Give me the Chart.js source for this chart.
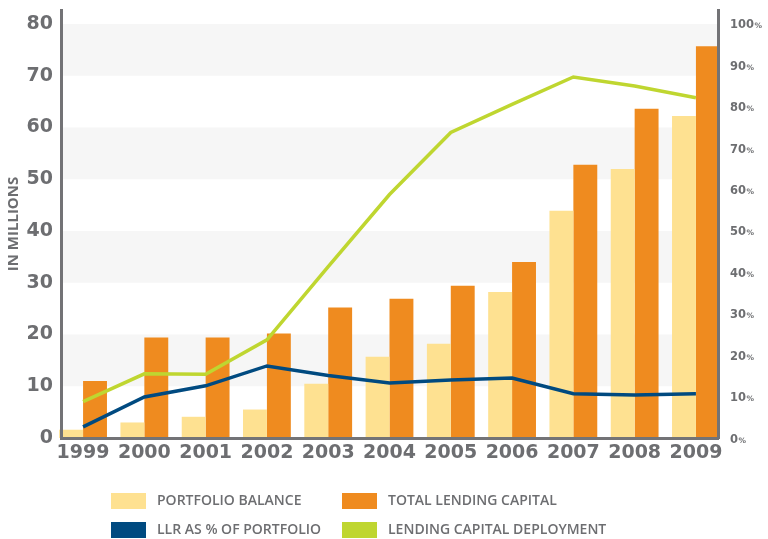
<!DOCTYPE html>
<html><head><meta charset="utf-8">
<script src="https://cdn.jsdelivr.net/npm/chart.js@4/dist/chart.umd.min.js"></script>
<style>html,body{margin:0;padding:0;background:#fff}#wrap{width:768px;height:539px;position:relative}</style>
</head><body><div id="wrap"><canvas id="c" width="768" height="539"></canvas></div>
<script>
// ---- data ----
const categories = ['1999','2000','2001','2002','2003','2004','2005','2006','2007','2008','2009'];
const portfolioBalance    = [1.6, 3.0, 4.1, 5.5, 10.5, 15.7, 18.2, 28.2, 43.9, 52.0, 62.2];
const totalLendingCapital = [11.0, 19.4, 19.4, 20.2, 25.2, 26.9, 29.4, 34.0, 52.8, 63.6, 75.7];
const llrPercent          = [2.7, 9.9, 12.6, 17.4, 15.1, 13.3, 14.0, 14.5, 10.7, 10.4, 10.7];
const deploymentPercent   = [8.8, 15.5, 15.4, 23.7, 41.4, 58.8, 73.8, 80.6, 87.2, 85.0, 82.2];
const leftTickValues  = [0, 10, 20, 30, 40, 50, 60, 70, 80];
const rightTickValues = [0, 10, 20, 30, 40, 50, 60, 70, 80, 90, 100];
const shadedBands = [[10, 20], [30, 40], [50, 60], [70, 80]];
const seriesLabels = ['PORTFOLIO BALANCE', 'TOTAL LENDING CAPITAL', 'LLR AS % OF PORTFOLIO', 'LENDING CAPITAL DEPLOYMENT'];

const GRAY = '#6d6e71';
const AXIS = '#737376';
const C_PORT = '#fee191';
const C_TOTAL = '#ef8b1f';
const C_LLR = '#004a80';
const C_DEP = '#bfd630';

const toPoints = (arr) => arr.map((v, i) => ({x: i, y: v}));

const bandsPlugin = {
  id: 'bands',
  beforeDatasetsDraw(chart) {
    const {ctx, chartArea, scales} = chart;
    ctx.save();
    ctx.fillStyle = '#f6f6f6';
    for (const [a, b] of shadedBands) {
      const yTop = scales.y.getPixelForValue(b);
      const yBot = scales.y.getPixelForValue(a);
      ctx.fillRect(chartArea.left, yTop, chartArea.right - chartArea.left, yBot - yTop);
    }
    ctx.restore();
  }
};

const extrasPlugin = {
  id: 'extras',
  afterDraw(chart) {
    const {ctx, scales, chartArea} = chart;
    ctx.save();
    // right axis labels: number + small percent sign
    ctx.fillStyle = GRAY;
    ctx.textBaseline = 'alphabetic';
    ctx.textAlign = 'left';
    for (const t of scales.y1.ticks) {
      const py = scales.y1.getPixelForValue(t.value);
      const x0 = chartArea.right + 12;
      ctx.font = 'bold 11.5px "DejaVu Sans"';
      const s = String(t.value);
      ctx.fillText(s, x0, py + 4.5);
      const w = ctx.measureText(s).width;
      ctx.font = 'bold 7.5px "DejaVu Sans"';
      ctx.fillText('%', x0 + w + 0.5, py + 4.5);
    }
    // legend 2x2
    const ds = chart.data.datasets;
    const order = [2, 3, 1, 0];
    const colX = [111, 342];
    const rowY = [493, 522];
    ctx.font = '600 14px "Open Sans"';
    ctx.textBaseline = 'middle';
    order.forEach((di, k) => {
      const d = ds[di];
      const x = colX[k % 2], y = rowY[Math.floor(k / 2)];
      ctx.fillStyle = d.legendColor;
      ctx.fillRect(x, y, 35, 16);
      ctx.fillStyle = GRAY;
      ctx.fillText(d.label, x + 46, y + 8.5);
    });
    ctx.restore();
  }
};

const tickFont = {family: '"DejaVu Sans"', weight: 'bold', size: 19};

new Chart(document.getElementById('c'), {
  type: 'bar',
  data: {
    datasets: [
      {type: 'line', label: seriesLabels[3], data: toPoints(deploymentPercent), xAxisID: 'x', yAxisID: 'y1',
       borderColor: C_DEP, legendColor: C_DEP, borderWidth: 3.5, pointRadius: 0, tension: 0, order: 1},
      {type: 'line', label: seriesLabels[2], data: toPoints(llrPercent), xAxisID: 'x', yAxisID: 'y1',
       borderColor: C_LLR, legendColor: C_LLR, borderWidth: 3.5, pointRadius: 0, tension: 0, order: 1},
      {label: seriesLabels[0], data: toPoints(portfolioBalance), xAxisID: 'x', yAxisID: 'y',
       backgroundColor: C_PORT, legendColor: C_PORT, categoryPercentage: 0.78, barPercentage: 1.0, order: 2, clip: false},
      {label: seriesLabels[1], data: toPoints(totalLendingCapital), xAxisID: 'x', yAxisID: 'y',
       backgroundColor: C_TOTAL, legendColor: C_TOTAL, categoryPercentage: 0.78, barPercentage: 1.0, order: 2, clip: false}
    ]
  },
  options: {
    responsive: false,
    animation: false,
    layout: {padding: {top: 10, left: 0, right: 0, bottom: 0}},
    plugins: {legend: {display: false}, tooltip: {enabled: false}},
    scales: {
      x: {
        type: 'linear', position: 'bottom', min: -0.36, max: 10.36, offset: false,
        grid: {display: false, drawTicks: false, offset: false},
        border: {display: true, color: AXIS, width: 3, z: 1},
        ticks: {autoSkip: false, maxRotation: 0, color: GRAY, font: tickFont, padding: 4,
                callback: (v) => categories[Math.round(v)]},
        afterBuildTicks: (s) => { s.ticks = categories.map((c, i) => ({value: i})); },
        afterFit: (s) => { s.height = 101; s.paddingLeft = 0; s.paddingRight = 0; }
      },
      y: {
        position: 'left', min: 0, max: 82.7,
        grid: {display: false, drawTicks: false},
        border: {display: true, color: AXIS, width: 3, z: 1},
        ticks: {color: GRAY, font: tickFont, padding: 8},
        afterBuildTicks: (s) => { s.ticks = leftTickValues.map(v => ({value: v})); },
        title: {display: true, text: 'IN MILLIONS', color: GRAY, font: {family: '"Open Sans"', weight: 'bold', size: 15}, padding: {top: 5, bottom: 0}},
        afterFit: (s) => { s.width = 61; s.paddingTop = 0; s.paddingBottom = 0; }
      },
      y1: {
        position: 'right', min: 0, max: 103.375,
        grid: {display: false, drawTicks: false},
        border: {display: true, color: AXIS, width: 3, z: 1},
        ticks: {display: false},
        afterBuildTicks: (s) => { s.ticks = rightTickValues.map(v => ({value: v})); },
        afterFit: (s) => { s.width = 50; s.paddingTop = 0; s.paddingBottom = 0; }
      }
    }
  },
  plugins: [bandsPlugin, extrasPlugin]
});
</script>
</body></html>
